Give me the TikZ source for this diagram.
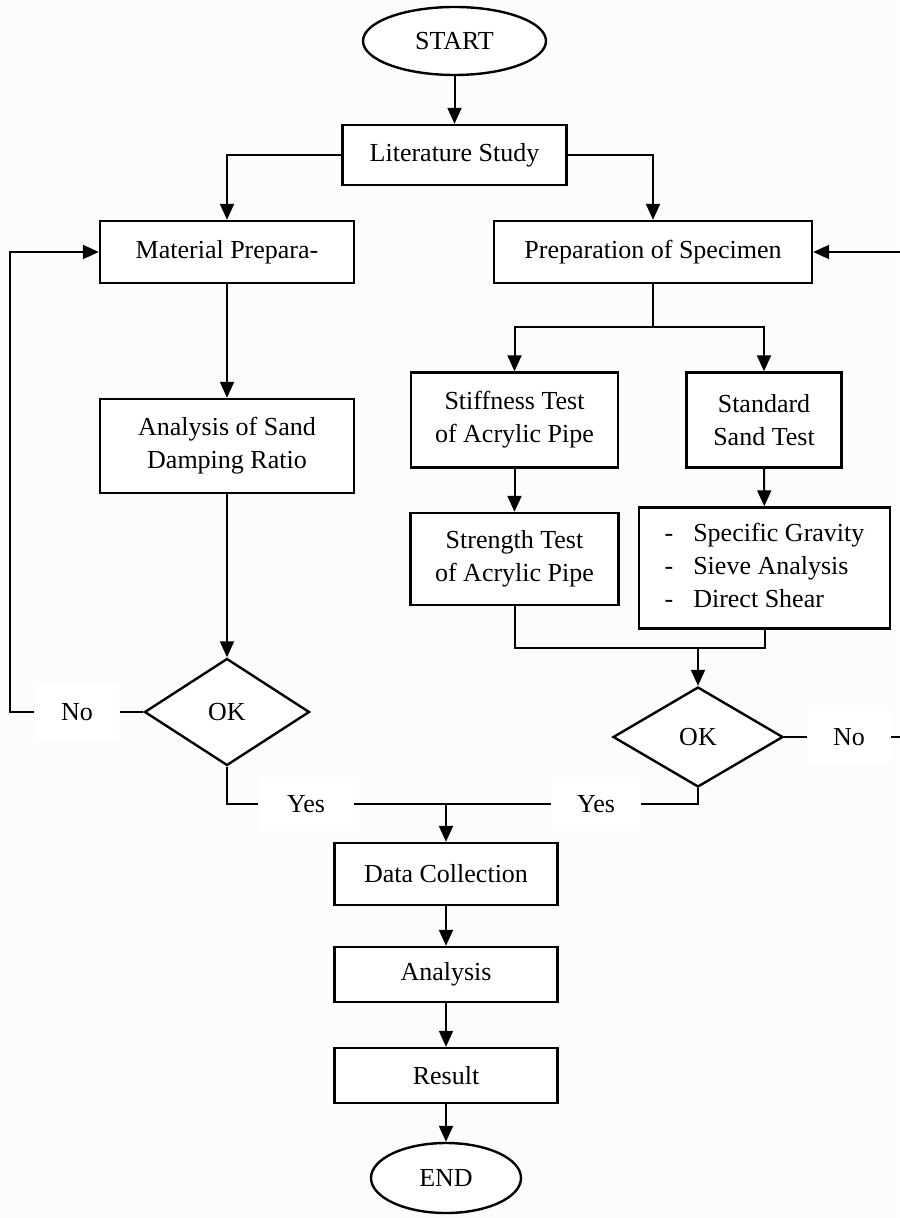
\documentclass[tikz,border=0pt]{standalone}
\usepackage{fontspec}
\setmainfont{Liberation Serif}
\usetikzlibrary{shapes.geometric,arrows.meta}
\definecolor{pagebg}{RGB}{253,252,253}
\begin{document}
\begin{tikzpicture}[x=0.5pt,y=-0.5pt,
  every node/.style={font=\fontsize{13}{16.5}\selectfont},
  box/.style={draw,line width=1.2pt,fill=white,align=center,inner sep=2pt},
  term/.style={draw,ellipse,line width=1.2pt,fill=white,inner sep=0pt},
  decide/.style={draw,diamond,line width=1.2pt,fill=white,inner sep=0pt},
  lbl/.style={fill=white,inner sep=0pt,minimum height=27pt},
  arr/.style={-{Triangle[length=8pt,width=7pt]}},
  every path/.style={line width=1pt}]
  \fill[pagebg] (0,0) rectangle (899,1218);
  \useasboundingbox (0,0) rectangle (899,1218);
  \node[term, minimum width=91.5pt, minimum height=34pt] (start) at (454.5,41) {START};
  \node[box, minimum width=112pt, minimum height=30pt] (lit) at (454.5,155) {Literature Study};
  \node[box, minimum width=127pt, minimum height=31pt] (mat) at (227,252) {Material Prepara-};
  \node[box, minimum width=159pt, minimum height=31pt] (prep) at (653,252) {Preparation of Specimen};
  \node[box, minimum width=127pt, minimum height=47pt] (sand) at (227,446) {Analysis of Sand\\Damping Ratio};
  \node[box, minimum width=103.5pt, minimum height=47.5pt] (stiff) at (514.5,420) {Stiffness Test\\of Acrylic Pipe};
  \node[box, minimum width=77.5pt, minimum height=47.5pt] (std) at (764,420) {Standard\\Sand Test};
  \node[box, minimum width=104pt, minimum height=46pt] (stren) at (514.5,559) {Strength Test\\of Acrylic Pipe};
  \node[box, minimum width=125.5pt, minimum height=60.5pt] (tests) at (764.5,568)
    {\begin{tabular}{@{}l@{\hspace{10pt}}l@{}}-&Specific Gravity\\-&Sieve Analysis\\-&Direct Shear\end{tabular}};
  \node[decide, minimum width=82.5pt, minimum height=53.5pt] (okL) at (227,712) {OK};
  \node[decide, minimum width=85pt, minimum height=50pt] (okR) at (698,737) {OK};
  \node[box, minimum width=111.5pt, minimum height=31pt] (data) at (446,874) {Data Collection};
  \node[box, minimum width=111.5pt, minimum height=27.5pt] (anal) at (446,974.5) {Analysis};
  \node[box, minimum width=111.5pt, minimum height=27.5pt] (res) at (446,1075.5) {Result};
  \node[term, minimum width=75pt, minimum height=35pt] (fin) at (446,1178) {END};
  \node[lbl, minimum width=42pt] (noL) at (77,712) {No};
  \node[lbl, minimum width=41pt] (noR) at (849,737) {No};
  \node[lbl, minimum width=47pt] (yesL) at (306,804) {Yes};
  \node[lbl, minimum width=44pt] (yesR) at (596,804) {Yes};
  \coordinate (split) at (653,327);
  \coordinate (merge) at (698,648);
  \coordinate (join) at (446,804);
  \coordinate (backL) at (10,712);
  \coordinate (backR) at (903,737);
  \draw[arr] (start) -- (lit);
  \draw[arr] (lit.west) -| (mat);
  \draw[arr] (lit.east) -| (prep);
  \draw[arr] (mat) -- (sand);
  \draw[arr] (sand) -- (okL);
  \draw (prep) -- (split);
  \draw[arr] (split) -| (stiff);
  \draw[arr] (split) -| (std);
  \draw[arr] (stiff) -- (stren);
  \draw[arr] (std) -- (tests);
  \draw (stren) |- (tests.south |- merge) -- (tests);
  \draw[arr] (merge) -- (okR);
  \draw (okL) -- (noL);
  \draw[arr] (noL) -- (backL) |- (mat);
  \draw (okR) -- (noR);
  \draw[arr] (noR) -- (backR) |- (prep);
  \draw (okL) |- (yesL);
  \draw (okR) |- (yesR);
  \draw (yesL) -- (join);
  \draw (yesR) -- (join);
  \draw[arr] (join) -- (data);
  \draw[arr] (data) -- (anal);
  \draw[arr] (anal) -- (res);
  \draw[arr] (res) -- (fin);
\end{tikzpicture}
\end{document}
